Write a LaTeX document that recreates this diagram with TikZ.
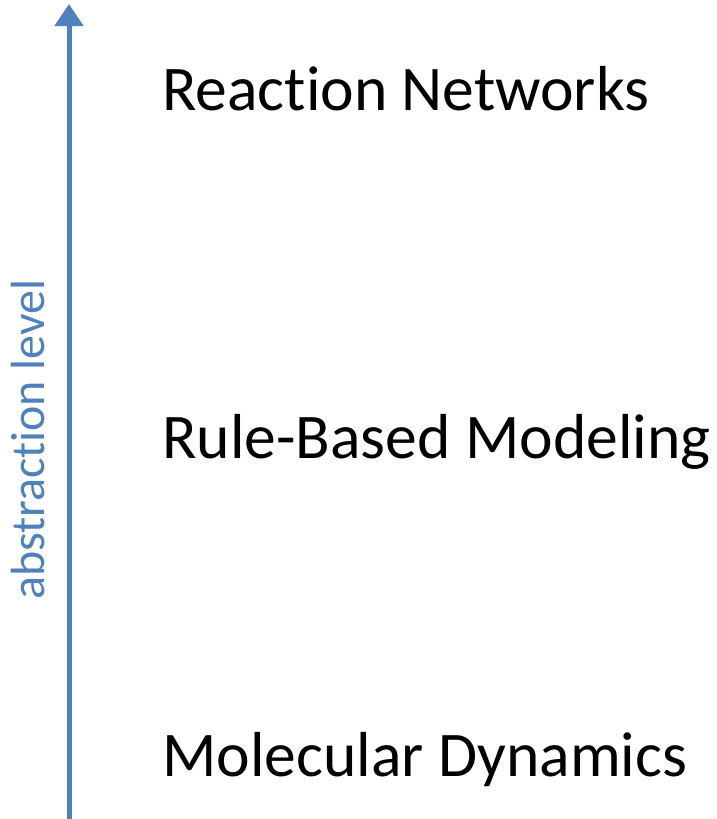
\documentclass[tikz,border=0pt]{standalone}
\usepackage{fontspec}
\setmainfont{Carlito}[Ligatures=NoCommon]
\usetikzlibrary{arrows.meta}
\definecolor{axisblue}{HTML}{4F81BD}
\begin{document}
\begin{tikzpicture}[x=1pt,y=-1pt,
  level/.style={anchor=base west, inner sep=0pt, font=\fontsize{63.6}{72}\selectfont},
  axislabel/.style={anchor=base west, inner sep=0pt, rotate=90, text=axisblue, font=\fontsize{48}{56}\selectfont}]
  \useasboundingbox (0,0) rectangle (716,819);
  \coordinate (bottom) at (69,819);
  \coordinate (top) at (69,4);
  \draw[axisblue, line width=5pt, -{Triangle[width=28pt,length=22pt]}] (bottom) -- (top);
  \node[axislabel] (lab) at (44,600) {abstraction level};
  \node[level] (rn) at (162,110) {Reaction Networks};
  \node[level] (rb) at (162,458) {Rule-Based Modeling};
  \node[level] (md) at (162,776) {Molecular Dynamics};
\end{tikzpicture}
\end{document}
